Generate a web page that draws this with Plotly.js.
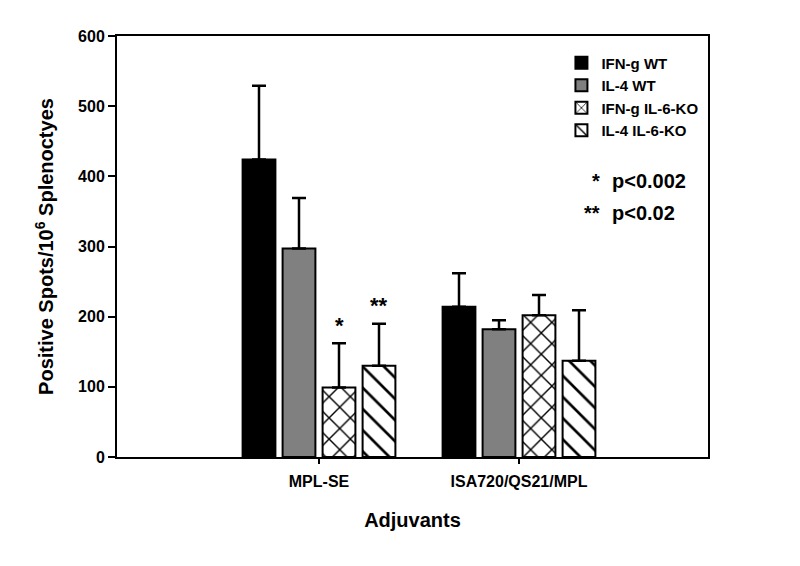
<!DOCTYPE html>
<html>
<head>
<meta charset="utf-8">
<script src="https://cdn.plot.ly/plotly-3.0.1.min.js"></script>
<style>
  body { margin: 0; background: white; }
</style>
</head>
<body>
<div id="myPlotBar"></div>
<script>
// adjuvant groups on the x axis
const adjuvants = ["MPL-SE", "ISA720/QS21/MPL"];

// bar heights per group (spots per 10^6 splenocytes)
const ifngWT = [424, 214];
const il4WT = [297, 182];
const ifngKO = [99, 202];
const il4KO = [130, 137];

// upper error bars (SD)
const ifngWTerr = [105, 48];
const il4WTerr = [72, 13];
const ifngKOerr = [63, 29];
const il4KOerr = [60, 72];

// significance marks over the MPL-SE KO bars
const sigMarks = ["*", "**"];

const fontBold = { family: "Liberation Sans, Arial", weight: "bold", color: "black" };
const sized = s => Object.assign({}, fontBold, { size: s });

const makeBar = (name, y, err, color, shape) => {
  const marker = { color: color, line: { color: "black", width: 2 } };
  if (shape) {
    marker.pattern = { shape: shape, fgcolor: "black", bgcolor: "white", size: 15, solidity: 0.18 };
  }
  return {
    x: adjuvants,
    y: y,
    name: name,
    type: "bar",
    marker: marker,
    error_y: {
      type: "data",
      symmetric: false,
      array: err,
      arrayminus: err.map(() => 0),
      color: "black",
      thickness: 2.5,
      width: 7
    }
  };
};

const data = [
  makeBar("IFN-g WT", ifngWT, ifngWTerr, "black", null),
  makeBar("IL-4 WT", il4WT, il4WTerr, "#808080", null),
  makeBar("IFN-g IL-6-KO", ifngKO, ifngKOerr, "white", "x"),
  makeBar("IL-4 IL-6-KO", il4KO, il4KOerr, "white", "\\")
];

// asterisks sit just above the error bar caps (bars 3 and 4 of first group)
const annotations = [
  { x: 0.1, y: ifngKO[0] + ifngKOerr[0] + 26, text: sigMarks[0] },
  { x: 0.3, y: il4KO[0] + il4KOerr[0] + 26, text: sigMarks[1] }
].map(a => ({
  x: a.x, y: a.y, xref: "x", yref: "y", text: a.text, showarrow: false,
  font: sized(22)
}));

// p-value key
annotations.push(
  { x: 0.82, y: 0.655, text: "*", xanchor: "right" },
  { x: 0.835, y: 0.655, text: "p<0.002", xanchor: "left" },
  { x: 0.82, y: 0.58, text: "**", xanchor: "right" },
  { x: 0.835, y: 0.58, text: "p<0.02", xanchor: "left" }
);
for (let i = 2; i < annotations.length; i++) {
  Object.assign(annotations[i], {
    xref: "paper", yref: "paper", showarrow: false, yanchor: "middle",
    font: sized(20)
  });
}

const layout = {
  width: 800,
  height: 566,
  margin: { l: 117, r: 92, t: 36, b: 109 },
  paper_bgcolor: "white",
  plot_bgcolor: "white",
  font: fontBold,
  barmode: "group",
  bargap: 0.2,
  bargroupgap: 0.18,
  showlegend: true,
  legend: {
    x: 0.752, y: 0.975, xanchor: "left", yanchor: "top",
    font: sized(15),
    bgcolor: "rgba(0,0,0,0)",
    tracegroupgap: 0
  },
  xaxis: {
    type: "category",
    range: [-1.01, 1.945],
    showline: true, linecolor: "black", linewidth: 2, mirror: true,
    ticks: "outside", ticklen: 5, tickwidth: 2, tickcolor: "black",
    ticklabelstandoff: 4,
    tickfont: sized(16),
    showgrid: false, zeroline: false,
    title: { text: "Adjuvants", font: sized(20), standoff: 24 }
  },
  yaxis: {
    range: [0, 600],
    dtick: 100,
    showline: true, linecolor: "black", linewidth: 2, mirror: true,
    ticks: "outside", ticklen: 7, tickwidth: 2, tickcolor: "black",
    tickfont: sized(16),
    showgrid: false, zeroline: false,
    title: { text: "Positive Spots/10<sup>6</sup> Splenoctyes", font: sized(20), standoff: 19 }
  },
  annotations: annotations
};

Plotly.newPlot("myPlotBar", data, layout, { displayModeBar: false });
</script>
</body>
</html>
